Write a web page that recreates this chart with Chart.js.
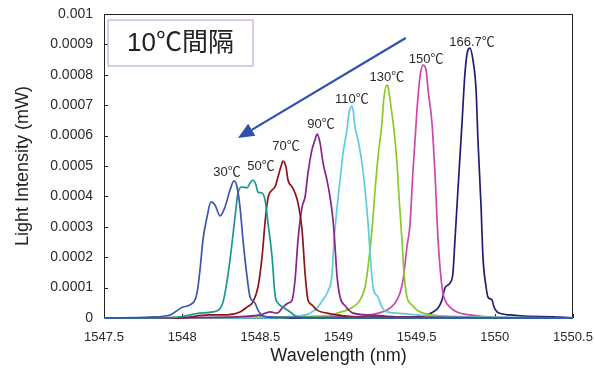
<!DOCTYPE html>
<html>
<head>
<meta charset="utf-8">
<style>
    body { margin: 0; background: #fff; }
    canvas { display: block; }
</style>
</head>
<body>
    <canvas id="myChart" width="595" height="372"></canvas>
    <script src="https://cdn.jsdelivr.net/npm/chart.js"></script>

    <script>
        // wavelength (nm) / light intensity (mW)
        const wl30 = [1547.5, 1547.794, 1547.922, 1548.005, 1548.05, 1548.095, 1548.114, 1548.133, 1548.159, 1548.184, 1548.21, 1548.242, 1548.274, 1548.306, 1548.332, 1548.351, 1548.37, 1548.389, 1548.415, 1548.434, 1548.466, 1548.485, 1548.517, 1548.6, 1550.5]
        const int30 = [0, 0.000003, 0.00001, 0.000036, 0.000043, 0.000082, 0.000158, 0.000257, 0.000332, 0.000382, 0.000372, 0.000336, 0.000365, 0.000421, 0.000451, 0.000431, 0.000365, 0.000257, 0.000135, 0.000069, 0.000049, 0.000026, 0.000007, 0.000002, 0]

        const wl50 = [1547.5, 1547.967, 1548.114, 1548.197, 1548.255, 1548.274, 1548.306, 1548.338, 1548.357, 1548.383, 1548.415, 1548.434, 1548.453, 1548.472, 1548.485, 1548.511, 1548.53, 1548.549, 1548.575, 1548.594, 1548.613, 1548.645, 1548.69, 1548.741, 1548.882, 1550.5]
        const int50 = [0, 0.000003, 0.000016, 0.00002, 0.000043, 0.000082, 0.000191, 0.000332, 0.000411, 0.000431, 0.000428, 0.000444, 0.000454, 0.000438, 0.000414, 0.000411, 0.000388, 0.000313, 0.000201, 0.000076, 0.000049, 0.000036, 0.00002, 0.000003, 0, 0]

        const wl70 = [1547.5, 1547.967, 1548.178, 1548.287, 1548.37, 1548.415, 1548.453, 1548.485, 1548.511, 1548.53, 1548.549, 1548.575, 1548.594, 1548.613, 1548.639, 1548.645, 1548.664, 1548.677, 1548.703, 1548.722, 1548.741, 1548.767, 1548.786, 1548.805, 1548.83, 1548.862, 1548.926, 1549.138, 1550.5]
        const int70 = [0, 0, 0.00001, 0.00001, 0.00002, 0.000036, 0.000053, 0.000102, 0.000201, 0.000313, 0.000395, 0.000421, 0.000431, 0.000464, 0.00051, 0.000516, 0.000497, 0.000454, 0.000431, 0.000411, 0.000378, 0.000289, 0.000148, 0.000059, 0.000043, 0.000026, 0.000016, 0.000003, 0]

        const wl90 = [1547.5, 1548.306, 1548.498, 1548.562, 1548.607, 1548.645, 1548.677, 1548.703, 1548.722, 1548.741, 1548.767, 1548.786, 1548.805, 1548.83, 1548.85, 1548.863, 1548.882, 1548.901, 1548.926, 1548.946, 1548.965, 1548.978, 1548.99, 1549.01, 1549.042, 1549.093, 1549.202, 1549.393, 1550.5]
        const int90 = [0, 0.000003, 0.00001, 0.00002, 0.000016, 0.000036, 0.000049, 0.000059, 0.000125, 0.000257, 0.000365, 0.000398, 0.000477, 0.000553, 0.000586, 0.000605, 0.000576, 0.00051, 0.000454, 0.000398, 0.000322, 0.000234, 0.000141, 0.000069, 0.00004, 0.000016, 0.00001, 0.000003, 0]

        const wl110 = [1547.5, 1548.626, 1548.754, 1548.818, 1548.863, 1548.895, 1548.933, 1548.958, 1548.972, 1548.991, 1549.01, 1549.029, 1549.054, 1549.067, 1549.086, 1549.093, 1549.106, 1549.125, 1549.15, 1549.17, 1549.189, 1549.202, 1549.221, 1549.253, 1549.278, 1549.31, 1549.374, 1549.585, 1550.5]
        const int110 = [0, 0, 0.000007, 0.000016, 0.000033, 0.000056, 0.000089, 0.000141, 0.000257, 0.000365, 0.000454, 0.000543, 0.000618, 0.000674, 0.000697, 0.000684, 0.000628, 0.000586, 0.00051, 0.000421, 0.000313, 0.000214, 0.000102, 0.000069, 0.000036, 0.00002, 0.000016, 0.000007, 0]

        const wl130 = [1547.5, 1548.946, 1548.99, 1549.054, 1549.093, 1549.138, 1549.17, 1549.189, 1549.214, 1549.234, 1549.253, 1549.278, 1549.291, 1549.31, 1549.317, 1549.336, 1549.355, 1549.374, 1549.387, 1549.406, 1549.419, 1549.438, 1549.47, 1549.502, 1549.541, 1549.649, 1550.5]
        const int130 = [0, 0.000007, 0.000016, 0.000026, 0.000036, 0.000059, 0.000102, 0.000168, 0.000289, 0.000421, 0.00053, 0.000641, 0.000727, 0.000766, 0.00076, 0.000694, 0.000618, 0.00051, 0.000398, 0.000257, 0.000148, 0.000069, 0.000043, 0.000026, 0.000016, 0.000007, 0]

        const wl150 = [1547.5, 1549.074, 1549.202, 1549.31, 1549.362, 1549.393, 1549.413, 1549.438, 1549.457, 1549.477, 1549.502, 1549.521, 1549.541, 1549.56, 1549.573, 1549.598, 1549.617, 1549.637, 1549.662, 1549.681, 1549.713, 1549.758, 1549.841, 1549.988, 1550.5]
        const int150 = [0, 0.000003, 0.00001, 0.000026, 0.000049, 0.000082, 0.000125, 0.000234, 0.000306, 0.000487, 0.000684, 0.000793, 0.000832, 0.000816, 0.00075, 0.000641, 0.000477, 0.000257, 0.000102, 0.000059, 0.000036, 0.00002, 0.00001, 0.000003, 0]

        const wl167 = [1547.5, 1549.457, 1549.566, 1549.605, 1549.637, 1549.662, 1549.681, 1549.713, 1549.732, 1549.745, 1549.764, 1549.79, 1549.809, 1549.828, 1549.841, 1549.86, 1549.88, 1549.892, 1549.912, 1549.924, 1549.944, 1549.956, 1549.982, 1549.995, 1550.014, 1550.052, 1550.097, 1550.161, 1550.417, 1550.5]
        const int167 = [0, 0.000003, 0.00001, 0.00002, 0.000033, 0.000059, 0.000099, 0.000115, 0.000148, 0.000257, 0.000421, 0.000641, 0.000806, 0.000882, 0.000888, 0.000849, 0.00075, 0.000586, 0.000365, 0.000201, 0.000102, 0.000069, 0.000059, 0.000036, 0.00002, 0.000013, 0.00001, 0.000007, 0.000003, 0]

        const temps = ['30℃', '50℃', '70℃', '90℃', '110℃', '130℃', '150℃', '166.7℃']
        const tempLabelWl = [1548.287, 1548.504, 1548.664, 1548.888, 1549.086, 1549.31, 1549.56, 1549.854]
        const tempLabelInt = [0.00048, 0.0005, 0.000566, 0.000638, 0.00072, 0.00079, 0.000852, 0.000908]

        const boxText = '10℃間隔'
        const boxCorners = [[1547.526, 0.00098], [1548.453, 0.000829]]
        const arrowFrom = [1549.43, 0.000921]
        const arrowTo = [1548.357, 0.000592]

        const xTicks = [1547.5, 1548, 1548.5, 1549, 1549.5, 1550, 1550.5]
        const yTicks = [0, 0.0001, 0.0002, 0.0003, 0.0004, 0.0005, 0.0006, 0.0007, 0.0008, 0.0009, 0.001]

        const FONT = '"Liberation Sans", Arial, "Noto Sans CJK JP", sans-serif'
        const colors = ['#3a55b0', '#1a9893', '#8c1418', '#8a2388', '#5ccde0', '#8cc82a', '#cc48aa', '#1e1e78']
        const series = [[wl30, int30], [wl50, int50], [wl70, int70], [wl90, int90], [wl110, int110], [wl130, int130], [wl150, int150], [wl167, int167]]

        const dataSets = series.map((s, i) => ({
            label: temps[i],
            data: s[0].map((x, j) => ({ x: x, y: s[1][j] })),
            borderColor: colors[i],
            borderWidth: 1.7,
            pointRadius: 0,
            showLine: true,
            fill: false,
            cubicInterpolationMode: 'monotone',
            clip: 4
        }))

        const framePlugin = {
            id: 'frame',
            beforeDatasetsDraw(chart) {
                const ctx = chart.ctx
                const a = chart.chartArea
                const xs = chart.scales.x, ys = chart.scales.y
                ctx.save()
                ctx.strokeStyle = '#222'
                ctx.lineWidth = 1
                ctx.strokeRect(a.left + 0.5, a.top + 0.5, a.right - a.left - 1, a.bottom - a.top)
                ctx.beginPath()
                yTicks.forEach(v => {
                    const y = Math.round(ys.getPixelForValue(v)) + 0.5
                    ctx.moveTo(a.left, y); ctx.lineTo(a.left + 4, y)
                })
                xTicks.forEach(v => {
                    const x = Math.round(xs.getPixelForValue(v)) + 0.5
                    ctx.moveTo(x, a.bottom); ctx.lineTo(x, a.bottom - 4)
                })
                ctx.stroke()
                ctx.restore()
            },
            afterDatasetsDraw(chart) {
                const ctx = chart.ctx
                const xs = chart.scales.x, ys = chart.scales.y
                ctx.save()

                // temperature labels
                ctx.font = '13px ' + FONT
                ctx.fillStyle = '#2a2a2a'
                ctx.textAlign = 'center'
                ctx.textBaseline = 'middle'
                temps.forEach((t, i) => {
                    ctx.fillText(t, xs.getPixelForValue(tempLabelWl[i]), ys.getPixelForValue(tempLabelInt[i]))
                })

                // box
                const bx1 = xs.getPixelForValue(boxCorners[0][0]), by1 = ys.getPixelForValue(boxCorners[0][1])
                const bx2 = xs.getPixelForValue(boxCorners[1][0]), by2 = ys.getPixelForValue(boxCorners[1][1])
                ctx.fillStyle = '#fff'
                ctx.fillRect(bx1, by1, bx2 - bx1, by2 - by1)
                ctx.strokeStyle = '#c4acd8'
                ctx.lineWidth = 1.2
                ctx.strokeRect(bx1, by1, bx2 - bx1, by2 - by1)
                ctx.fillStyle = '#222'
                ctx.font = '26px ' + FONT
                ctx.fillText(boxText, (bx1 + bx2) / 2, (by1 + by2) / 2 + 1)

                // arrow
                const ax1 = xs.getPixelForValue(arrowFrom[0]), ay1 = ys.getPixelForValue(arrowFrom[1])
                const ax2 = xs.getPixelForValue(arrowTo[0]), ay2 = ys.getPixelForValue(arrowTo[1])
                const ang = Math.atan2(ay2 - ay1, ax2 - ax1)
                const headLen = 16, headW = 7
                const bxh = ax2 - headLen * Math.cos(ang), byh = ay2 - headLen * Math.sin(ang)
                ctx.strokeStyle = '#3050ac'
                ctx.fillStyle = '#3050ac'
                ctx.lineWidth = 2.2
                ctx.beginPath()
                ctx.moveTo(ax1, ay1)
                ctx.lineTo(bxh, byh)
                ctx.stroke()
                ctx.beginPath()
                ctx.moveTo(ax2, ay2)
                ctx.lineTo(bxh + headW * Math.sin(ang), byh - headW * Math.cos(ang))
                ctx.lineTo(bxh - headW * Math.sin(ang), byh + headW * Math.cos(ang))
                ctx.closePath()
                ctx.fill()
                ctx.restore()
            }
        }

        const canvas = document.getElementById('myChart').getContext('2d')
        const chart = new Chart(canvas, {
            type: 'scatter',
            data: { datasets: dataSets },
            options: {
                responsive: false,
                animation: false,
                layout: { padding: { top: 14, right: 22, bottom: 0, left: 0 } },
                plugins: { legend: { display: false }, tooltip: { enabled: false } },
                scales: {
                    x: {
                        type: 'linear',
                        min: 1547.5,
                        max: 1550.5,
                        afterFit: (s) => { s.height = 54; s.paddingLeft = 0; s.paddingRight = 0 },
                        afterBuildTicks: (s) => { s.ticks = xTicks.map(v => ({ value: v })) },
                        grid: { display: false, drawTicks: false },
                        border: { display: false },
                        ticks: {
                            padding: 12,
                            color: '#2a2a2a',
                            font: { family: FONT, size: 13 },
                            maxRotation: 0,
                            autoSkip: false,
                            callback: (v) => String(v)
                        },
                        title: {
                            display: true,
                            text: 'Wavelength (nm)',
                            color: '#222',
                            font: { family: FONT, size: 18 },
                            padding: { top: 0, bottom: 5 }
                        }
                    },
                    y: {
                        min: 0,
                        max: 0.001,
                        afterFit: (s) => { s.width = 104; s.paddingTop = 0; s.paddingBottom = 0 },
                        afterBuildTicks: (s) => { s.ticks = yTicks.map(v => ({ value: v })) },
                        grid: { display: false, drawTicks: false },
                        border: { display: false },
                        ticks: {
                            padding: 11,
                            color: '#2a2a2a',
                            font: { family: FONT, size: 14 },
                            autoSkip: false,
                            callback: (v) => String(Number(v.toFixed(4)))
                        },
                        title: {
                            display: true,
                            text: 'Light Intensity (mW)',
                            color: '#222',
                            font: { family: FONT, size: 18 },
                            padding: { top: 12, bottom: 0 }
                        }
                    }
                }
            },
            plugins: [framePlugin]
        })
    </script>
</body>
</html>
